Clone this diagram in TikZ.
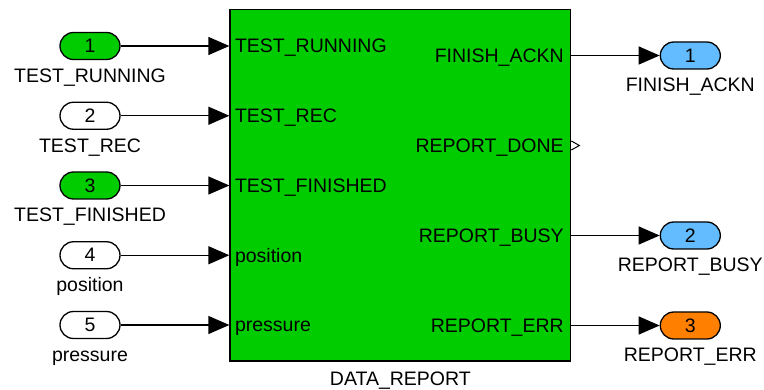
\documentclass[tikz,border=0pt]{standalone}
\usepackage{fontspec}
\setmainfont{Liberation Sans}
\usetikzlibrary{arrows.meta,positioning}
\definecolor{blockgreen}{RGB}{0,204,0}
\definecolor{portblue}{RGB}{98,188,255}
\definecolor{portorange}{RGB}{255,128,0}
\newcommand{\simfont}{\fontsize{19.5pt}{23pt}\selectfont}

\begin{document}
\begin{tikzpicture}[x=1pt,y=-1pt,>={Triangle[length=21pt,width=18pt]},line width=1.3pt,node distance=69.75pt,
  every node/.style={font=\simfont},
  inport/.style={draw,rounded corners=13.5pt,minimum width=60pt,minimum height=27pt,inner sep=0pt,fill=white},
  outport/.style={inport},
  portname/.style={anchor=base,yshift=-36.4pt},
  inname/.style={anchor=base west,inner sep=0pt,xshift=5pt,yshift=-7pt},
  outname/.style={anchor=base east,inner sep=0pt,xshift=-7pt,yshift=-7pt},
  block/.style={draw,fill=blockgreen,minimum width=340.7pt,minimum height=351.7pt,inner sep=0pt}]
\useasboundingbox (0,0) rectangle (764,390);

\node[block] (data report) at (400.35,185.15) {};
\node[anchor=base,yshift=-24pt] (data report name) at (data report.south) {DATA\_REPORT};

% inports
\node[inport,fill=blockgreen] (test running) at (90,46) {1};
\node[inport] (test rec) [below of=test running] {2};
\node[inport,fill=blockgreen] (test finished) [below of=test rec] {3};
\node[inport] (position) [below of=test finished] {4};
\node[inport] (pressure) [below of=position] {5};

\node[portname] (test running name) at (test running) {TEST\_RUNNING};
\node[portname] (test rec name) at (test rec) {TEST\_REC};
\node[portname] (test finished name) at (test finished) {TEST\_FINISHED};
\node[portname] (position name) at (position) {position};
\node[portname] (pressure name) at (pressure) {pressure};

% outports
\node[outport,fill=portblue] (finish ackn) at (690.3,55.5) {1};
\node[outport,fill=portblue] (report busy) [below of=finish ackn, node distance=180pt] {2};
\node[outport,fill=portorange] (report err) [below of=report busy, node distance=90pt] {3};

\node[portname] (finish ackn name) at (finish ackn) {FINISH\_ACKN};
\node[portname] (report busy name) at (report busy) {REPORT\_BUSY};
\node[portname] (report err name) at (report err) {REPORT\_ERR};

% ports of the block
\coordinate (test running in) at (test running -| data report.west);
\coordinate (test rec in) at (test rec -| data report.west);
\coordinate (test finished in) at (test finished -| data report.west);
\coordinate (position in) at (position -| data report.west);
\coordinate (pressure in) at (pressure -| data report.west);
\coordinate (finish ackn out) at (finish ackn -| data report.east);
\coordinate (report done out) at ([yshift=-90pt]finish ackn -| data report.east);
\coordinate (report busy out) at (report busy -| data report.east);
\coordinate (report err out) at (report err -| data report.east);

\node[inname] (test running port) at (test running in) {TEST\_RUNNING};
\node[inname] (test rec port) at (test rec in) {TEST\_REC};
\node[inname] (test finished port) at (test finished in) {TEST\_FINISHED};
\node[inname] (position port) at (position in) {position};
\node[inname] (pressure port) at (pressure in) {pressure};
\node[outname] (finish ackn port) at (finish ackn out) {FINISH\_ACKN};
\node[outname] (report done port) at (report done out) {REPORT\_DONE};
\node[outname] (report busy port) at (report busy out) {REPORT\_BUSY};
\node[outname] (report err port) at (report err out) {REPORT\_ERR};

\draw[line width=1pt,fill=white] ([yshift=4.5pt]report done out) -- ([xshift=8pt]report done out) -- ([yshift=-4.5pt]report done out);

\path[->] (test running)	edge	(test running in)
	(test rec)		edge	(test rec in)
	(test finished)	edge	(test finished in)
	(position)		edge	(position in)
	(pressure)		edge	(pressure in)
	(finish ackn out)	edge	(finish ackn)
	(report busy out)	edge	(report busy)
	(report err out)	edge	(report err)
	;

\end{tikzpicture}
\end{document}
